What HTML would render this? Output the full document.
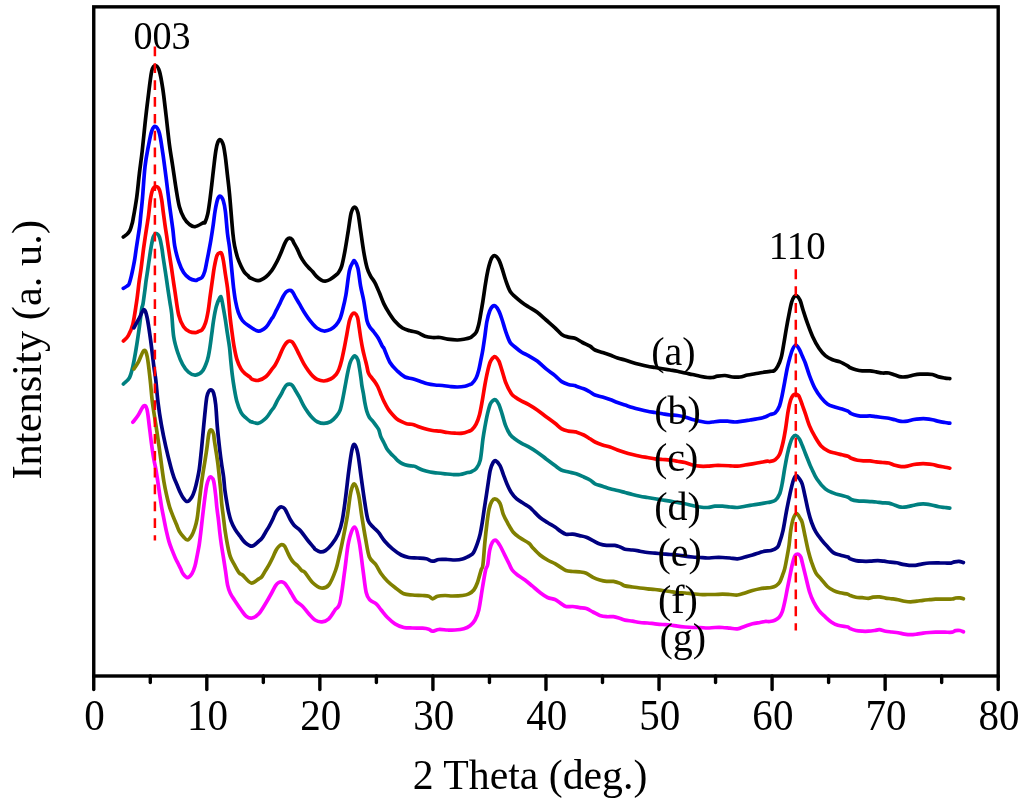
<!DOCTYPE html><html><head><meta charset="utf-8"><style>html,body{margin:0;padding:0;background:#fff;}svg{display:block;will-change:transform;}text{font-family:"Liberation Serif",serif;fill:#000;}</style></head><body>
<svg width="1024" height="810" viewBox="0 0 1024 810">
<rect width="1024" height="810" fill="#fff"/>
<path d="M123.30 237.00 C123.92 236.55 125.92 235.37 127.00 234.30 C128.08 233.23 129.02 232.15 129.80 230.60 C130.58 229.05 131.17 226.83 131.70 225.00 C132.23 223.17 132.17 224.20 133.00 219.60 C133.83 215.00 135.63 205.12 136.70 197.40 C137.77 189.68 138.48 181.02 139.40 173.30 C140.32 165.58 141.27 159.32 142.20 151.10 C143.13 142.88 144.07 132.52 145.00 124.00 C145.93 115.48 146.68 108.82 147.80 100.00 C148.92 91.18 150.43 76.85 151.70 71.10 C152.97 65.35 154.12 65.50 155.40 65.50 C156.68 65.50 158.17 67.20 159.40 71.10 C160.63 75.00 161.68 81.48 162.80 88.90 C163.92 96.32 165.00 106.35 166.10 115.60 C167.20 124.85 168.28 135.88 169.40 144.40 C170.52 152.92 171.68 159.28 172.80 166.70 C173.92 174.12 175.00 182.23 176.10 188.90 C177.20 195.57 178.10 201.88 179.40 206.70 C180.70 211.52 182.23 214.85 183.90 217.80 C185.57 220.75 187.55 222.92 189.40 224.40 C191.25 225.88 192.60 227.02 195.00 226.70 C197.40 226.38 202.13 223.22 203.80 222.50 C205.47 221.78 204.35 223.78 205.00 222.40 C205.65 221.02 206.90 217.82 207.70 214.20 C208.50 210.58 209.12 205.68 209.80 200.70 C210.48 195.72 211.13 189.97 211.80 184.30 C212.47 178.63 213.12 172.35 213.80 166.70 C214.48 161.05 215.22 154.52 215.90 150.40 C216.58 146.28 217.15 143.77 217.90 142.00 C218.65 140.23 219.50 139.32 220.40 139.80 C221.30 140.28 222.47 142.00 223.30 144.90 C224.13 147.80 224.72 152.22 225.40 157.20 C226.08 162.18 226.72 168.68 227.40 174.80 C228.08 180.92 228.58 184.10 229.50 193.90 C230.42 203.70 232.00 224.72 232.90 233.60 C233.80 242.48 234.10 243.13 234.90 247.20 C235.70 251.27 236.67 254.83 237.70 258.00 C238.73 261.17 239.97 263.82 241.10 266.20 C242.23 268.58 243.35 270.72 244.50 272.30 C245.65 273.88 247.00 274.75 248.00 275.70 C249.00 276.65 248.78 277.18 250.50 278.00 C252.22 278.82 255.70 280.82 258.30 280.60 C260.90 280.38 263.82 278.43 266.10 276.70 C268.38 274.97 270.47 272.20 272.00 270.20 C273.53 268.20 274.18 266.73 275.30 264.70 C276.42 262.67 277.58 260.42 278.70 258.00 C279.82 255.58 280.98 252.63 282.00 250.20 C283.02 247.77 283.97 245.17 284.80 243.40 C285.63 241.63 286.22 240.47 287.00 239.60 C287.78 238.73 288.62 238.17 289.50 238.20 C290.38 238.23 291.53 238.93 292.30 239.80 C293.07 240.67 293.27 241.85 294.10 243.40 C294.93 244.95 296.23 246.95 297.30 249.10 C298.37 251.25 299.30 254.03 300.50 256.30 C301.70 258.57 303.17 260.83 304.50 262.70 C305.83 264.57 307.17 266.03 308.50 267.50 C309.83 268.97 311.17 270.03 312.50 271.50 C313.83 272.97 315.03 274.87 316.50 276.30 C317.97 277.73 319.83 279.28 321.30 280.10 C322.77 280.92 323.85 281.30 325.30 281.20 C326.75 281.10 328.20 280.53 330.00 279.50 C331.80 278.47 334.72 276.12 336.10 275.00 C337.48 273.88 337.37 274.28 338.30 272.80 C339.23 271.32 340.58 269.80 341.70 266.10 C342.82 262.40 343.90 256.52 345.00 250.60 C346.10 244.68 347.27 236.90 348.30 230.60 C349.33 224.30 350.15 216.73 351.20 212.80 C352.25 208.87 353.48 207.00 354.60 207.00 C355.72 207.00 356.90 208.87 357.90 212.80 C358.90 216.73 359.60 223.93 360.60 230.60 C361.60 237.27 362.80 246.52 363.90 252.80 C365.00 259.08 366.08 264.42 367.20 268.30 C368.32 272.18 369.30 273.68 370.60 276.10 C371.90 278.52 373.53 280.02 375.00 282.80 C376.47 285.58 377.92 289.28 379.40 292.80 C380.88 296.32 382.33 300.62 383.90 303.90 C385.47 307.18 386.95 309.62 388.80 312.50 C390.65 315.38 392.72 318.62 395.00 321.20 C397.28 323.78 400.00 326.40 402.50 328.00 C405.00 329.60 407.50 330.05 410.00 330.80 C412.50 331.55 415.00 331.60 417.50 332.50 C420.00 333.40 422.50 335.37 425.00 336.20 C427.50 337.03 430.00 337.28 432.50 337.50 C435.00 337.72 437.50 337.22 440.00 337.50 C442.50 337.78 444.58 338.78 447.50 339.20 C450.42 339.62 454.58 340.03 457.50 340.00 C460.42 339.97 462.92 339.37 465.00 339.00 C467.08 338.63 468.83 338.22 470.00 337.80 C471.17 337.38 470.98 337.40 472.00 336.50 C473.02 335.60 474.97 334.45 476.10 332.40 C477.23 330.35 478.02 327.37 478.80 324.20 C479.58 321.03 480.12 317.25 480.80 313.40 C481.48 309.55 482.22 305.40 482.90 301.10 C483.58 296.80 484.23 291.90 484.90 287.60 C485.57 283.30 486.22 278.93 486.90 275.30 C487.58 271.67 488.20 268.68 489.00 265.80 C489.80 262.92 490.70 259.67 491.70 258.00 C492.70 256.33 493.80 255.47 495.00 255.80 C496.20 256.13 497.70 257.82 498.90 260.00 C500.10 262.18 501.08 265.57 502.20 268.90 C503.32 272.23 504.30 276.30 505.60 280.00 C506.90 283.70 508.43 288.32 510.00 291.10 C511.57 293.88 513.05 294.85 515.00 296.70 C516.95 298.55 519.48 300.53 521.70 302.20 C523.92 303.87 525.72 305.03 528.30 306.70 C530.88 308.37 534.23 309.98 537.20 312.20 C540.17 314.42 543.13 317.40 546.10 320.00 C549.07 322.60 552.40 325.40 555.00 327.80 C557.60 330.20 559.48 332.85 561.70 334.40 C563.92 335.95 566.08 336.45 568.30 337.10 C570.52 337.75 572.63 337.40 575.00 338.30 C577.37 339.20 580.00 341.18 582.50 342.50 C585.00 343.82 587.92 344.95 590.00 346.20 C592.08 347.45 592.92 348.95 595.00 350.00 C597.08 351.05 600.00 351.67 602.50 352.50 C605.00 353.33 607.50 354.08 610.00 355.00 C612.50 355.92 615.00 357.17 617.50 358.00 C620.00 358.83 622.50 359.25 625.00 360.00 C627.50 360.75 630.00 361.75 632.50 362.50 C635.00 363.25 637.50 363.88 640.00 364.50 C642.50 365.12 645.00 365.70 647.50 366.20 C650.00 366.70 652.50 367.07 655.00 367.50 C657.50 367.93 660.00 368.38 662.50 368.80 C665.00 369.22 667.50 369.60 670.00 370.00 C672.50 370.40 675.00 370.70 677.50 371.20 C680.00 371.70 682.50 372.45 685.00 373.00 C687.50 373.55 690.00 373.97 692.50 374.50 C695.00 375.03 697.50 375.70 700.00 376.20 C702.50 376.70 705.42 377.28 707.50 377.50 C709.58 377.72 710.83 377.72 712.50 377.50 C714.17 377.28 715.42 376.53 717.50 376.20 C719.58 375.87 722.50 375.37 725.00 375.50 C727.50 375.63 730.00 376.75 732.50 377.00 C735.00 377.25 737.50 377.33 740.00 377.00 C742.50 376.67 745.00 375.53 747.50 375.00 C750.00 374.47 752.50 374.22 755.00 373.80 C757.50 373.38 760.00 372.90 762.50 372.50 C765.00 372.10 768.03 371.72 770.00 371.40 C771.97 371.08 773.00 371.47 774.30 370.60 C775.60 369.73 776.65 368.37 777.80 366.20 C778.95 364.03 780.20 361.33 781.20 357.60 C782.20 353.87 782.93 348.70 783.80 343.80 C784.67 338.90 785.53 333.10 786.40 328.20 C787.27 323.30 788.13 318.72 789.00 314.40 C789.87 310.08 790.73 305.25 791.60 302.30 C792.47 299.35 793.33 297.77 794.20 296.70 C795.07 295.63 795.82 295.30 796.80 295.90 C797.78 296.50 799.03 297.87 800.10 300.30 C801.17 302.73 801.98 306.70 803.20 310.50 C804.42 314.30 805.82 318.73 807.40 323.10 C808.98 327.47 810.77 332.50 812.70 336.70 C814.63 340.90 816.90 345.15 819.00 348.30 C821.10 351.45 823.03 353.68 825.30 355.60 C827.57 357.52 830.15 358.75 832.60 359.80 C835.05 360.85 837.43 360.85 840.00 361.90 C842.57 362.95 846.38 365.17 848.00 366.10 C849.62 367.03 848.38 366.88 849.70 367.50 C851.02 368.12 853.82 369.23 855.90 369.80 C857.98 370.37 859.85 370.72 862.20 370.90 C864.55 371.08 867.67 370.73 870.00 370.90 C872.33 371.07 874.12 371.55 876.20 371.90 C878.28 372.25 880.40 372.82 882.50 373.00 C884.60 373.18 886.72 372.67 888.80 373.00 C890.88 373.33 892.93 374.35 895.00 375.00 C897.07 375.65 899.12 376.63 901.20 376.90 C903.28 377.17 905.40 376.92 907.50 376.60 C909.60 376.28 911.72 375.42 913.80 375.00 C915.88 374.58 917.93 374.25 920.00 374.10 C922.07 373.95 924.12 374.03 926.20 374.10 C928.28 374.17 930.40 374.03 932.50 374.50 C934.60 374.97 936.72 376.30 938.80 376.90 C940.88 377.50 943.17 377.82 945.00 378.10 C946.83 378.38 949.00 378.52 949.80 378.60" fill="none" stroke="#000000" stroke-width="3.7" stroke-linejoin="round" stroke-linecap="round"/>
<path d="M123.30 288.40 C123.92 288.02 126.03 286.85 127.00 286.10 C127.97 285.35 128.38 285.57 129.10 283.90 C129.82 282.23 130.65 278.70 131.30 276.10 C131.95 273.50 132.43 271.08 133.00 268.30 C133.57 265.52 134.15 262.73 134.70 259.40 C135.25 256.07 135.75 252.00 136.30 248.30 C136.85 244.60 137.43 240.90 138.00 237.20 C138.57 233.50 139.23 229.80 139.70 226.10 C140.17 222.40 140.33 219.68 140.80 215.00 C141.27 210.32 141.80 206.05 142.50 198.00 C143.20 189.95 144.03 175.25 145.00 166.70 C145.97 158.15 147.18 152.63 148.30 146.70 C149.42 140.77 150.52 134.47 151.70 131.10 C152.88 127.73 154.12 126.13 155.40 126.50 C156.68 126.87 158.17 128.83 159.40 133.30 C160.63 137.77 161.68 145.88 162.80 153.30 C163.92 160.72 165.00 169.28 166.10 177.80 C167.20 186.32 168.28 195.88 169.40 204.40 C170.52 212.92 171.92 222.00 172.80 228.90 C173.68 235.80 173.72 240.35 174.70 245.80 C175.68 251.25 177.22 257.15 178.70 261.60 C180.18 266.05 181.80 269.70 183.60 272.50 C185.40 275.30 187.53 277.08 189.50 278.40 C191.47 279.72 193.98 280.23 195.40 280.40 C196.82 280.57 196.88 279.90 198.00 279.40 C199.12 278.90 200.97 278.75 202.10 277.40 C203.23 276.05 204.02 273.92 204.80 271.30 C205.58 268.68 206.12 265.10 206.80 261.70 C207.48 258.30 208.22 254.52 208.90 250.90 C209.58 247.28 210.18 244.30 210.90 240.00 C211.62 235.70 212.48 230.07 213.20 225.10 C213.92 220.13 214.42 214.63 215.20 210.20 C215.98 205.77 217.03 200.83 217.90 198.50 C218.77 196.17 219.50 195.83 220.40 196.20 C221.30 196.57 222.47 198.15 223.30 200.70 C224.13 203.25 224.70 206.02 225.40 211.50 C226.10 216.98 226.82 227.65 227.50 233.60 C228.18 239.55 228.93 242.67 229.50 247.20 C230.07 251.73 230.45 256.28 230.90 260.80 C231.35 265.32 231.75 269.78 232.20 274.30 C232.65 278.82 233.03 283.37 233.60 287.90 C234.17 292.43 234.82 297.42 235.60 301.50 C236.38 305.58 237.17 309.23 238.30 312.40 C239.43 315.57 240.78 318.35 242.40 320.50 C244.02 322.65 245.35 323.53 248.00 325.30 C250.65 327.07 255.28 330.78 258.30 331.10 C261.32 331.42 263.90 329.22 266.10 327.20 C268.30 325.18 270.33 320.72 271.50 319.00 C272.67 317.28 272.28 318.37 273.10 316.90 C273.92 315.43 275.28 312.42 276.40 310.20 C277.52 307.98 278.68 305.88 279.80 303.60 C280.92 301.32 282.08 298.40 283.10 296.50 C284.12 294.60 284.97 293.20 285.90 292.20 C286.83 291.20 287.87 290.78 288.70 290.50 C289.53 290.22 290.17 290.12 290.90 290.50 C291.63 290.88 292.37 291.73 293.10 292.80 C293.83 293.87 294.25 295.05 295.30 296.90 C296.35 298.75 297.97 301.43 299.40 303.90 C300.83 306.37 302.42 309.30 303.90 311.70 C305.38 314.10 306.82 316.27 308.30 318.30 C309.78 320.33 311.32 322.23 312.80 323.90 C314.28 325.57 315.35 327.12 317.20 328.30 C319.05 329.48 321.67 330.82 323.90 331.00 C326.13 331.18 328.57 330.40 330.60 329.40 C332.63 328.40 334.55 326.73 336.10 325.00 C337.65 323.27 338.83 321.43 339.90 319.00 C340.97 316.57 341.50 314.40 342.50 310.40 C343.50 306.40 344.75 301.63 345.90 295.00 C347.05 288.37 348.25 276.02 349.40 270.60 C350.55 265.18 351.93 264.10 352.80 262.50 C353.67 260.90 353.75 260.03 354.60 261.00 C355.45 261.97 356.90 264.12 357.90 268.30 C358.90 272.48 359.65 280.82 360.60 286.10 C361.55 291.38 362.82 295.95 363.60 300.00 C364.38 304.05 364.73 306.95 365.30 310.40 C365.87 313.85 366.28 317.97 367.00 320.70 C367.72 323.43 368.45 324.92 369.60 326.80 C370.75 328.68 372.47 330.13 373.90 332.00 C375.33 333.87 376.75 335.55 378.20 338.00 C379.65 340.45 381.65 344.98 382.60 346.70 C383.55 348.42 382.67 345.67 383.90 348.30 C385.13 350.93 387.73 358.68 390.00 362.50 C392.27 366.32 395.00 368.78 397.50 371.20 C400.00 373.62 402.50 375.73 405.00 377.00 C407.50 378.27 410.00 378.10 412.50 378.80 C415.00 379.50 417.50 380.37 420.00 381.20 C422.50 382.03 425.00 383.17 427.50 383.80 C430.00 384.43 432.50 384.72 435.00 385.00 C437.50 385.28 440.00 385.25 442.50 385.50 C445.00 385.75 447.50 386.25 450.00 386.50 C452.50 386.75 455.00 387.05 457.50 387.00 C460.00 386.95 462.92 386.63 465.00 386.20 C467.08 385.77 468.83 384.85 470.00 384.40 C471.17 383.95 470.98 384.57 472.00 383.50 C473.02 382.43 474.97 380.27 476.10 378.00 C477.23 375.73 478.02 372.83 478.80 369.90 C479.58 366.97 480.12 363.80 480.80 360.40 C481.48 357.00 482.22 353.57 482.90 349.50 C483.58 345.43 484.23 340.67 484.90 336.00 C485.57 331.33 486.10 325.67 486.90 321.50 C487.70 317.33 488.78 313.50 489.70 311.00 C490.62 308.50 491.47 307.33 492.40 306.50 C493.33 305.67 494.22 305.23 495.30 306.00 C496.38 306.77 497.75 308.77 498.90 311.10 C500.05 313.43 501.08 316.67 502.20 320.00 C503.32 323.33 504.30 327.40 505.60 331.10 C506.90 334.80 508.43 339.55 510.00 342.20 C511.57 344.85 513.05 345.33 515.00 347.00 C516.95 348.67 519.48 350.77 521.70 352.20 C523.92 353.63 525.72 354.12 528.30 355.60 C530.88 357.08 534.23 358.88 537.20 361.10 C540.17 363.32 543.13 366.48 546.10 368.90 C549.07 371.32 552.40 373.48 555.00 375.60 C557.60 377.72 559.48 380.13 561.70 381.60 C563.92 383.07 566.08 383.73 568.30 384.40 C570.52 385.07 573.68 385.30 575.00 385.60 C576.32 385.90 574.73 385.67 576.20 386.20 C577.67 386.73 581.50 387.83 583.80 388.80 C586.10 389.77 588.13 390.97 590.00 392.00 C591.87 393.03 592.92 394.17 595.00 395.00 C597.08 395.83 600.00 396.25 602.50 397.00 C605.00 397.75 607.50 398.58 610.00 399.50 C612.50 400.42 615.00 401.58 617.50 402.50 C620.00 403.42 622.50 404.17 625.00 405.00 C627.50 405.83 630.00 406.75 632.50 407.50 C635.00 408.25 637.50 408.88 640.00 409.50 C642.50 410.12 645.00 410.70 647.50 411.20 C650.00 411.70 652.50 412.07 655.00 412.50 C657.50 412.93 660.00 413.38 662.50 413.80 C665.00 414.22 667.50 414.72 670.00 415.00 C672.50 415.28 675.00 415.17 677.50 415.50 C680.00 415.83 682.50 416.33 685.00 417.00 C687.50 417.67 690.00 418.80 692.50 419.50 C695.00 420.20 697.50 420.70 700.00 421.20 C702.50 421.70 705.42 422.37 707.50 422.50 C709.58 422.63 710.42 422.22 712.50 422.00 C714.58 421.78 717.50 421.33 720.00 421.20 C722.50 421.07 725.00 421.07 727.50 421.20 C730.00 421.33 732.50 422.00 735.00 422.00 C737.50 422.00 740.00 421.53 742.50 421.20 C745.00 420.87 747.50 420.40 750.00 420.00 C752.50 419.60 755.00 419.30 757.50 418.80 C760.00 418.30 762.92 417.70 765.00 417.00 C767.08 416.30 768.30 415.28 770.00 414.60 C771.70 413.92 773.62 414.33 775.20 412.90 C776.78 411.47 778.35 408.88 779.50 406.00 C780.65 403.12 781.23 399.63 782.10 395.60 C782.97 391.57 783.83 386.40 784.70 381.80 C785.57 377.20 786.43 372.03 787.30 368.00 C788.17 363.97 789.03 360.68 789.90 357.60 C790.77 354.52 791.50 351.60 792.50 349.50 C793.50 347.40 794.75 345.00 795.90 345.00 C797.05 345.00 798.30 347.58 799.40 349.50 C800.50 351.42 801.52 354.25 802.50 356.50 C803.48 358.75 804.13 359.82 805.30 363.00 C806.47 366.18 807.92 371.42 809.50 375.60 C811.08 379.78 812.87 384.43 814.80 388.10 C816.73 391.77 819.00 394.97 821.10 397.60 C823.20 400.23 825.13 402.33 827.40 403.90 C829.67 405.47 832.25 406.13 834.70 407.00 C837.15 407.87 839.88 408.40 842.10 409.10 C844.32 409.80 846.48 410.45 848.00 411.20 C849.52 411.95 849.62 412.87 851.20 413.60 C852.78 414.33 855.40 415.17 857.50 415.60 C859.60 416.03 861.72 416.15 863.80 416.20 C865.88 416.25 867.93 415.82 870.00 415.90 C872.07 415.98 874.12 416.43 876.20 416.70 C878.28 416.97 880.40 417.23 882.50 417.50 C884.60 417.77 886.72 417.92 888.80 418.30 C890.88 418.68 892.93 419.28 895.00 419.80 C897.07 420.32 899.12 421.18 901.20 421.40 C903.28 421.62 905.40 421.42 907.50 421.10 C909.60 420.78 911.72 419.88 913.80 419.50 C915.88 419.12 917.93 418.92 920.00 418.80 C922.07 418.68 924.12 418.63 926.20 418.80 C928.28 418.97 930.40 419.37 932.50 419.80 C934.60 420.23 936.72 420.95 938.80 421.40 C940.88 421.85 943.17 422.20 945.00 422.50 C946.83 422.80 949.00 423.08 949.80 423.20" fill="none" stroke="#0000FF" stroke-width="3.7" stroke-linejoin="round" stroke-linecap="round"/>
<path d="M123.40 341.00 C124.22 340.10 126.73 338.37 128.30 335.60 C129.87 332.83 131.47 329.68 132.80 324.40 C134.13 319.12 135.47 309.17 136.30 303.90 C137.13 298.63 137.33 296.50 137.80 292.80 C138.27 289.10 138.60 285.40 139.10 281.70 C139.60 278.00 140.28 274.32 140.80 270.60 C141.32 266.88 141.73 263.12 142.20 259.40 C142.67 255.68 143.10 252.00 143.60 248.30 C144.10 244.60 144.65 240.90 145.20 237.20 C145.75 233.50 146.33 229.80 146.90 226.10 C147.47 222.40 148.02 219.45 148.60 215.00 C149.18 210.55 149.72 203.67 150.40 199.40 C151.08 195.13 151.77 191.55 152.70 189.40 C153.63 187.25 154.90 186.50 156.00 186.50 C157.10 186.50 158.37 187.25 159.30 189.40 C160.23 191.55 160.95 195.68 161.60 199.40 C162.25 203.12 162.63 207.43 163.20 211.70 C163.77 215.97 164.42 220.93 165.00 225.00 C165.58 229.07 166.15 232.40 166.70 236.10 C167.25 239.80 167.75 243.50 168.30 247.20 C168.85 250.90 169.43 254.60 170.00 258.30 C170.57 262.00 171.15 265.68 171.70 269.40 C172.25 273.12 172.75 276.88 173.30 280.60 C173.85 284.32 174.10 285.97 175.00 291.70 C175.90 297.43 177.27 309.15 178.70 315.00 C180.13 320.85 181.80 324.02 183.60 326.80 C185.40 329.58 187.53 330.72 189.50 331.70 C191.47 332.68 193.98 332.70 195.40 332.70 C196.82 332.70 196.88 332.20 198.00 331.70 C199.12 331.20 200.85 331.17 202.10 329.70 C203.35 328.23 204.48 326.07 205.50 322.90 C206.52 319.73 207.42 315.23 208.20 310.70 C208.98 306.17 209.52 300.68 210.20 295.70 C210.88 290.72 211.62 285.55 212.30 280.80 C212.98 276.05 213.52 271.42 214.30 267.20 C215.08 262.98 216.03 257.91 217.00 255.50 C217.97 253.09 219.30 253.00 220.10 252.75 C220.90 252.50 221.25 252.66 221.80 254.00 C222.35 255.34 222.80 257.42 223.40 260.80 C224.00 264.18 224.72 269.78 225.40 274.30 C226.08 278.82 226.93 283.37 227.50 287.90 C228.07 292.43 228.35 296.48 228.80 301.50 C229.25 306.52 229.63 312.65 230.20 318.00 C230.77 323.35 231.53 328.73 232.20 333.60 C232.87 338.47 233.42 342.90 234.20 347.20 C234.98 351.50 235.77 355.78 236.90 359.40 C238.03 363.02 239.63 366.52 241.00 368.90 C242.37 371.28 243.60 372.33 245.10 373.70 C246.60 375.07 248.88 376.20 250.00 377.10 C251.12 378.00 250.42 378.55 251.80 379.10 C253.18 379.65 255.92 380.83 258.30 380.40 C260.68 379.97 263.82 378.38 266.10 376.50 C268.38 374.62 270.47 371.07 272.00 369.10 C273.53 367.13 274.18 366.55 275.30 364.70 C276.42 362.85 277.58 360.42 278.70 358.00 C279.82 355.58 280.98 352.37 282.00 350.20 C283.02 348.03 283.87 346.40 284.80 345.00 C285.73 343.60 286.77 342.47 287.60 341.80 C288.43 341.13 289.00 340.93 289.80 341.00 C290.60 341.07 291.57 341.40 292.40 342.20 C293.23 343.00 293.93 344.28 294.80 345.80 C295.67 347.32 296.83 349.77 297.60 351.30 C298.37 352.83 298.35 352.90 299.40 355.00 C300.45 357.10 302.42 361.30 303.90 363.90 C305.38 366.50 306.82 368.57 308.30 370.60 C309.78 372.63 311.32 374.63 312.80 376.10 C314.28 377.57 315.35 378.58 317.20 379.40 C319.05 380.22 321.67 381.07 323.90 381.00 C326.13 380.93 328.57 380.08 330.60 379.00 C332.63 377.92 334.70 376.15 336.10 374.50 C337.50 372.85 338.08 371.43 339.00 369.10 C339.92 366.77 340.73 363.95 341.60 360.50 C342.47 357.05 343.33 352.72 344.20 348.40 C345.07 344.08 345.93 339.22 346.80 334.60 C347.67 329.98 348.53 324.05 349.40 320.70 C350.27 317.35 351.13 315.75 352.00 314.50 C352.87 313.25 353.68 312.73 354.60 313.20 C355.52 313.67 356.73 314.88 357.50 317.30 C358.27 319.72 358.62 323.95 359.20 327.70 C359.78 331.45 360.38 336.08 361.00 339.80 C361.62 343.52 362.27 346.98 362.90 350.00 C363.53 353.02 364.15 355.27 364.80 357.90 C365.45 360.53 366.22 363.33 366.80 365.80 C367.38 368.27 367.63 370.88 368.30 372.70 C368.97 374.52 369.73 375.22 370.80 376.70 C371.87 378.18 373.55 379.97 374.70 381.60 C375.85 383.23 376.72 384.52 377.70 386.50 C378.68 388.48 379.67 391.25 380.60 393.50 C381.53 395.75 382.43 398.10 383.30 400.00 C384.17 401.90 384.90 403.25 385.80 404.90 C386.70 406.55 387.55 408.25 388.70 409.90 C389.85 411.55 391.38 413.32 392.70 414.80 C394.02 416.28 395.12 417.65 396.60 418.80 C398.08 419.95 399.95 420.88 401.60 421.70 C403.25 422.52 404.87 423.28 406.50 423.70 C408.13 424.12 409.98 423.95 411.40 424.20 C412.82 424.45 413.98 424.87 415.00 425.20 C416.02 425.53 415.83 425.60 417.50 426.20 C419.17 426.80 422.50 428.08 425.00 428.80 C427.50 429.52 430.00 430.10 432.50 430.50 C435.00 430.90 437.50 430.87 440.00 431.20 C442.50 431.53 445.00 432.17 447.50 432.50 C450.00 432.83 452.50 433.08 455.00 433.20 C457.50 433.32 460.20 433.53 462.50 433.20 C464.80 432.87 467.22 431.78 468.80 431.20 C470.38 430.62 470.78 430.87 472.00 429.70 C473.22 428.53 474.85 426.70 476.10 424.20 C477.35 421.70 478.48 418.55 479.50 414.70 C480.52 410.85 481.30 406.08 482.20 401.10 C483.10 396.12 484.00 389.77 484.90 384.80 C485.80 379.83 486.70 375.15 487.60 371.30 C488.50 367.45 489.35 364.00 490.30 361.70 C491.25 359.40 492.47 358.32 493.30 357.50 C494.13 356.68 494.37 356.20 495.30 356.80 C496.23 357.40 497.75 358.72 498.90 361.10 C500.05 363.48 501.08 367.58 502.20 371.10 C503.32 374.62 504.12 378.50 505.60 382.20 C507.08 385.90 509.53 390.83 511.10 393.30 C512.67 395.77 513.23 395.70 515.00 397.00 C516.77 398.30 519.48 399.87 521.70 401.10 C523.92 402.33 525.72 402.92 528.30 404.40 C530.88 405.88 534.23 407.95 537.20 410.00 C540.17 412.05 543.13 414.48 546.10 416.70 C549.07 418.92 552.40 421.27 555.00 423.30 C557.60 425.33 559.48 427.60 561.70 428.90 C563.92 430.20 566.08 430.62 568.30 431.10 C570.52 431.58 573.68 431.65 575.00 431.80 C576.32 431.95 574.73 431.47 576.20 432.00 C577.67 432.53 581.50 433.87 583.80 435.00 C586.10 436.13 588.13 437.63 590.00 438.80 C591.87 439.97 592.92 440.97 595.00 442.00 C597.08 443.03 600.00 444.17 602.50 445.00 C605.00 445.83 607.50 446.17 610.00 447.00 C612.50 447.83 615.00 449.08 617.50 450.00 C620.00 450.92 622.50 451.75 625.00 452.50 C627.50 453.25 630.00 453.88 632.50 454.50 C635.00 455.12 637.50 455.70 640.00 456.20 C642.50 456.70 645.00 457.07 647.50 457.50 C650.00 457.93 652.50 458.47 655.00 458.80 C657.50 459.13 660.00 459.30 662.50 459.50 C665.00 459.70 667.50 459.72 670.00 460.00 C672.50 460.28 675.00 460.78 677.50 461.20 C680.00 461.62 682.50 461.87 685.00 462.50 C687.50 463.13 690.00 464.38 692.50 465.00 C695.00 465.62 697.50 466.00 700.00 466.20 C702.50 466.40 705.00 466.32 707.50 466.20 C710.00 466.08 712.50 465.62 715.00 465.50 C717.50 465.38 720.00 465.45 722.50 465.50 C725.00 465.55 727.50 465.68 730.00 465.80 C732.50 465.92 735.00 466.33 737.50 466.20 C740.00 466.07 742.50 465.40 745.00 465.00 C747.50 464.60 750.00 464.22 752.50 463.80 C755.00 463.38 757.50 462.93 760.00 462.50 C762.50 462.07 765.83 461.37 767.50 461.20 C769.17 461.03 768.72 461.73 770.00 461.50 C771.28 461.27 773.62 460.95 775.20 459.80 C776.78 458.65 778.20 457.48 779.50 454.60 C780.80 451.72 781.98 446.83 783.00 442.50 C784.02 438.17 784.75 433.82 785.60 428.60 C786.45 423.38 787.25 416.00 788.10 411.20 C788.95 406.40 789.83 402.50 790.70 399.80 C791.57 397.10 792.43 395.97 793.30 395.00 C794.17 394.03 795.03 393.92 795.90 394.00 C796.77 394.08 797.78 394.65 798.50 395.50 C799.22 396.35 799.53 397.43 800.20 399.10 C800.87 400.77 801.65 403.13 802.50 405.50 C803.35 407.87 804.13 409.90 805.30 413.30 C806.47 416.70 807.92 422.05 809.50 425.90 C811.08 429.75 812.87 433.07 814.80 436.40 C816.73 439.73 818.83 443.45 821.10 445.90 C823.37 448.35 825.95 449.88 828.40 451.10 C830.85 452.32 833.53 452.58 835.80 453.20 C838.07 453.82 839.97 454.28 842.00 454.80 C844.03 455.32 846.47 455.72 848.00 456.30 C849.53 456.88 849.62 457.63 851.20 458.30 C852.78 458.97 855.40 459.87 857.50 460.30 C859.60 460.73 861.72 460.80 863.80 460.90 C865.88 461.00 867.93 460.73 870.00 460.90 C872.07 461.07 874.12 461.63 876.20 461.90 C878.28 462.17 880.40 462.32 882.50 462.50 C884.60 462.68 886.72 462.53 888.80 463.00 C890.88 463.47 892.93 464.70 895.00 465.30 C897.07 465.90 899.12 466.47 901.20 466.60 C903.28 466.73 905.40 466.45 907.50 466.10 C909.60 465.75 911.72 464.88 913.80 464.50 C915.88 464.12 917.93 463.92 920.00 463.80 C922.07 463.68 924.12 463.68 926.20 463.80 C928.28 463.92 930.40 464.12 932.50 464.50 C934.60 464.88 936.72 465.65 938.80 466.10 C940.88 466.55 943.17 466.85 945.00 467.20 C946.83 467.55 949.00 468.03 949.80 468.20" fill="none" stroke="#FF0000" stroke-width="3.7" stroke-linejoin="round" stroke-linecap="round"/>
<path d="M123.40 384.00 C124.40 382.97 127.83 380.68 129.40 377.80 C130.97 374.92 131.68 371.52 132.80 366.70 C133.92 361.88 135.00 355.57 136.10 348.90 C137.20 342.23 138.47 333.37 139.40 326.70 C140.33 320.03 141.10 312.70 141.70 308.90 C142.30 305.10 142.45 307.15 143.00 303.90 C143.55 300.65 144.48 293.28 145.00 289.40 C145.52 285.52 145.63 283.93 146.10 280.60 C146.57 277.27 147.25 273.12 147.80 269.40 C148.35 265.68 148.85 262.00 149.40 258.30 C149.95 254.60 150.45 250.75 151.10 247.20 C151.75 243.65 152.47 239.28 153.30 237.00 C154.13 234.72 155.08 233.50 156.10 233.50 C157.12 233.50 158.47 234.72 159.40 237.00 C160.33 239.28 161.05 243.65 161.70 247.20 C162.35 250.75 162.75 254.60 163.30 258.30 C163.85 262.00 164.43 265.68 165.00 269.40 C165.57 273.12 166.15 276.88 166.70 280.60 C167.25 284.32 167.75 288.00 168.30 291.70 C168.85 295.40 169.43 299.10 170.00 302.80 C170.57 306.50 171.08 308.25 171.70 313.90 C172.32 319.55 172.70 330.27 173.70 336.70 C174.70 343.13 176.22 347.90 177.70 352.50 C179.18 357.10 180.80 361.02 182.60 364.30 C184.40 367.58 186.37 370.38 188.50 372.20 C190.63 374.02 193.08 375.37 195.40 375.20 C197.72 375.03 200.42 373.67 202.40 371.20 C204.38 368.73 206.12 363.93 207.30 360.40 C208.48 356.87 208.78 354.22 209.50 350.00 C210.22 345.78 210.92 340.07 211.60 335.10 C212.28 330.13 212.82 324.95 213.60 320.20 C214.38 315.45 215.25 310.38 216.30 306.60 C217.35 302.82 219.05 298.93 219.90 297.50 C220.75 296.07 220.82 296.20 221.40 298.00 C221.98 299.80 222.73 304.63 223.40 308.30 C224.07 311.97 224.73 315.78 225.40 320.00 C226.07 324.22 226.72 329.07 227.40 333.60 C228.08 338.13 228.93 342.67 229.50 347.20 C230.07 351.73 230.35 356.28 230.80 360.80 C231.25 365.32 231.63 369.78 232.20 374.30 C232.77 378.82 233.42 383.37 234.20 387.90 C234.98 392.43 235.77 397.42 236.90 401.50 C238.03 405.58 239.52 409.68 241.00 412.40 C242.48 415.12 244.30 416.33 245.80 417.80 C247.30 419.27 249.00 420.52 250.00 421.20 C251.00 421.88 250.42 421.57 251.80 421.90 C253.18 422.23 255.92 423.85 258.30 423.20 C260.68 422.55 263.90 420.12 266.10 418.00 C268.30 415.88 270.15 412.35 271.50 410.50 C272.85 408.65 273.18 408.62 274.20 406.90 C275.22 405.18 276.48 402.23 277.60 400.20 C278.72 398.17 279.88 396.55 280.90 394.70 C281.92 392.85 282.78 390.68 283.70 389.10 C284.62 387.52 285.42 386.02 286.40 385.20 C287.38 384.38 288.60 384.15 289.60 384.20 C290.60 384.25 291.45 384.50 292.40 385.50 C293.35 386.50 294.13 388.25 295.30 390.20 C296.47 392.15 297.97 394.55 299.40 397.20 C300.83 399.85 302.42 403.50 303.90 406.10 C305.38 408.70 306.82 410.77 308.30 412.80 C309.78 414.83 311.32 416.82 312.80 418.30 C314.28 419.78 315.35 420.85 317.20 421.70 C319.05 422.55 321.67 423.40 323.90 423.40 C326.13 423.40 328.57 422.85 330.60 421.70 C332.63 420.55 334.55 418.35 336.10 416.50 C337.65 414.65 338.83 413.32 339.90 410.60 C340.97 407.88 341.63 404.23 342.50 400.20 C343.37 396.17 344.23 391.00 345.10 386.40 C345.97 381.80 346.85 376.58 347.70 372.60 C348.55 368.62 349.35 365.02 350.20 362.50 C351.05 359.98 352.00 358.58 352.80 357.50 C353.60 356.42 354.15 355.58 355.00 356.00 C355.85 356.42 357.17 358.03 357.90 360.00 C358.63 361.97 358.90 364.85 359.40 367.80 C359.90 370.75 360.48 374.73 360.90 377.70 C361.32 380.67 361.48 382.97 361.90 385.60 C362.32 388.23 362.92 390.72 363.40 393.50 C363.88 396.28 364.23 399.35 364.80 402.30 C365.37 405.25 366.05 408.72 366.80 411.20 C367.55 413.68 368.32 415.55 369.30 417.20 C370.28 418.85 371.63 419.78 372.70 421.10 C373.77 422.42 374.70 423.70 375.70 425.10 C376.70 426.50 377.85 427.58 378.70 429.50 C379.55 431.42 379.95 434.43 380.80 436.60 C381.65 438.77 382.82 440.53 383.80 442.50 C384.78 444.47 385.55 446.58 386.70 448.40 C387.85 450.22 389.38 451.92 390.70 453.40 C392.02 454.88 393.28 455.98 394.60 457.30 C395.92 458.62 397.28 460.23 398.60 461.30 C399.92 462.37 401.02 463.02 402.50 463.70 C403.98 464.38 405.85 465.02 407.50 465.40 C409.15 465.78 411.15 465.83 412.40 466.00 C413.65 466.17 413.32 465.73 415.00 466.40 C416.68 467.07 420.00 469.07 422.50 470.00 C425.00 470.93 427.50 471.50 430.00 472.00 C432.50 472.50 435.00 472.70 437.50 473.00 C440.00 473.30 442.50 473.55 445.00 473.80 C447.50 474.05 450.00 474.38 452.50 474.50 C455.00 474.62 457.50 474.83 460.00 474.50 C462.50 474.17 465.83 472.88 467.50 472.50 C469.17 472.12 469.25 472.40 470.00 472.20 C470.75 472.00 470.98 471.90 472.00 471.30 C473.02 470.70 474.73 470.42 476.10 468.60 C477.47 466.78 479.07 465.30 480.20 460.40 C481.33 455.50 482.12 444.77 482.90 439.20 C483.68 433.63 484.12 431.30 484.90 427.00 C485.68 422.70 486.70 417.25 487.60 413.40 C488.50 409.55 489.35 406.08 490.30 403.90 C491.25 401.72 492.43 400.98 493.30 400.30 C494.17 399.62 494.57 399.12 495.50 399.80 C496.43 400.48 497.78 401.97 498.90 404.40 C500.02 406.83 501.08 410.87 502.20 414.40 C503.32 417.93 504.30 422.27 505.60 425.60 C506.90 428.93 508.43 432.17 510.00 434.40 C511.57 436.63 513.05 437.52 515.00 439.00 C516.95 440.48 519.48 442.02 521.70 443.30 C523.92 444.58 525.72 445.22 528.30 446.70 C530.88 448.18 534.23 450.17 537.20 452.20 C540.17 454.23 543.13 456.67 546.10 458.90 C549.07 461.13 552.48 463.75 555.00 465.60 C557.52 467.45 558.90 468.93 561.20 470.00 C563.50 471.07 566.30 471.37 568.80 472.00 C571.30 472.63 573.70 472.97 576.20 473.80 C578.70 474.63 581.50 475.97 583.80 477.00 C586.10 478.03 588.13 478.87 590.00 480.00 C591.87 481.13 592.92 482.77 595.00 483.80 C597.08 484.83 600.00 485.37 602.50 486.20 C605.00 487.03 607.50 488.08 610.00 488.80 C612.50 489.52 615.00 489.88 617.50 490.50 C620.00 491.12 622.50 491.83 625.00 492.50 C627.50 493.17 630.00 493.88 632.50 494.50 C635.00 495.12 637.50 495.70 640.00 496.20 C642.50 496.70 645.00 497.07 647.50 497.50 C650.00 497.93 652.50 498.38 655.00 498.80 C657.50 499.22 660.00 499.60 662.50 500.00 C665.00 500.40 667.50 500.78 670.00 501.20 C672.50 501.62 675.00 502.07 677.50 502.50 C680.00 502.93 682.50 503.30 685.00 503.80 C687.50 504.30 690.00 504.97 692.50 505.50 C695.00 506.03 697.50 506.67 700.00 507.00 C702.50 507.33 705.00 507.63 707.50 507.50 C710.00 507.37 712.50 506.42 715.00 506.20 C717.50 505.98 720.00 506.07 722.50 506.20 C725.00 506.33 727.50 506.78 730.00 507.00 C732.50 507.22 735.00 507.63 737.50 507.50 C740.00 507.37 742.50 506.62 745.00 506.20 C747.50 505.78 750.00 505.40 752.50 505.00 C755.00 504.60 757.50 504.22 760.00 503.80 C762.50 503.38 765.83 502.78 767.50 502.50 C769.17 502.22 768.72 502.45 770.00 502.10 C771.28 501.75 773.62 501.70 775.20 500.40 C776.78 499.10 778.35 497.03 779.50 494.30 C780.65 491.57 781.23 488.32 782.10 484.00 C782.97 479.68 783.83 473.30 784.70 468.40 C785.57 463.50 786.43 458.63 787.30 454.60 C788.17 450.57 789.03 447.00 789.90 444.20 C790.77 441.40 791.50 439.25 792.50 437.80 C793.50 436.35 794.75 435.30 795.90 435.50 C797.05 435.70 798.33 437.33 799.40 439.00 C800.47 440.67 801.32 443.13 802.30 445.50 C803.28 447.87 804.10 450.17 805.30 453.20 C806.50 456.23 808.45 461.15 809.50 463.70 C810.55 466.25 810.37 465.95 811.60 468.50 C812.83 471.05 814.62 475.60 816.90 479.00 C819.18 482.40 822.50 486.55 825.30 488.90 C828.10 491.25 831.25 492.08 833.70 493.10 C836.15 494.12 837.62 494.30 840.00 495.00 C842.38 495.70 846.13 496.57 848.00 497.30 C849.87 498.03 849.62 498.80 851.20 499.40 C852.78 500.00 855.40 500.60 857.50 500.90 C859.60 501.20 861.72 501.08 863.80 501.20 C865.88 501.32 867.93 501.47 870.00 501.60 C872.07 501.73 874.12 501.80 876.20 502.00 C878.28 502.20 880.40 502.62 882.50 502.80 C884.60 502.98 886.72 502.70 888.80 503.10 C890.88 503.50 892.93 504.52 895.00 505.20 C897.07 505.88 899.12 506.95 901.20 507.20 C903.28 507.45 905.40 507.03 907.50 506.70 C909.60 506.37 911.72 505.63 913.80 505.20 C915.88 504.77 917.93 504.28 920.00 504.10 C922.07 503.92 924.12 503.92 926.20 504.10 C928.28 504.28 930.40 504.77 932.50 505.20 C934.60 505.63 936.72 506.32 938.80 506.70 C940.88 507.08 943.17 507.27 945.00 507.50 C946.83 507.73 949.00 508.00 949.80 508.10" fill="none" stroke="#008080" stroke-width="3.7" stroke-linejoin="round" stroke-linecap="round"/>
<path d="M133.90 327.80 C134.82 326.13 137.73 320.85 139.40 317.80 C141.07 314.75 142.60 309.47 143.90 309.50 C145.20 309.53 146.08 312.92 147.20 318.00 C148.32 323.08 149.48 331.88 150.60 340.00 C151.72 348.12 153.03 360.03 153.90 366.70 C154.77 373.37 155.12 374.08 155.80 380.00 C156.48 385.92 157.08 394.80 158.00 402.20 C158.92 409.60 160.00 416.98 161.30 424.40 C162.60 431.82 164.18 439.47 165.80 446.70 C167.42 453.93 169.65 462.68 171.00 467.80 C172.35 472.92 172.90 474.57 173.90 477.40 C174.90 480.23 175.97 482.33 177.00 484.80 C178.03 487.27 179.07 490.03 180.10 492.20 C181.13 494.37 182.02 496.25 183.20 497.80 C184.38 499.35 185.75 501.63 187.20 501.50 C188.65 501.37 190.62 499.03 191.90 497.00 C193.18 494.97 194.03 492.07 194.90 489.30 C195.77 486.53 196.37 483.78 197.10 480.40 C197.83 477.02 198.62 473.73 199.30 469.00 C199.98 464.27 200.60 457.78 201.20 452.00 C201.80 446.22 202.30 440.55 202.90 434.30 C203.50 428.05 204.15 420.72 204.80 414.50 C205.45 408.28 206.10 400.92 206.80 397.00 C207.50 393.08 208.23 392.17 209.00 391.00 C209.77 389.83 210.63 389.67 211.40 390.00 C212.17 390.33 212.88 390.57 213.60 393.00 C214.32 395.43 215.07 398.85 215.70 404.60 C216.33 410.35 216.70 419.77 217.40 427.50 C218.10 435.23 219.18 444.80 219.90 451.00 C220.62 457.20 221.08 460.37 221.70 464.70 C222.32 469.03 223.08 472.88 223.60 477.00 C224.12 481.12 224.28 485.28 224.80 489.40 C225.32 493.52 226.08 498.00 226.70 501.70 C227.32 505.40 227.78 508.42 228.50 511.60 C229.22 514.78 229.90 517.83 231.00 520.80 C232.10 523.77 233.60 526.83 235.10 529.40 C236.60 531.97 238.35 534.02 240.00 536.20 C241.65 538.38 243.00 540.83 245.00 542.50 C247.00 544.17 249.70 546.42 252.00 546.20 C254.30 545.98 257.13 542.53 258.80 541.20 C260.47 539.87 260.85 539.73 262.00 538.20 C263.15 536.67 264.47 534.05 265.70 532.00 C266.93 529.95 268.17 528.15 269.40 525.90 C270.63 523.65 271.97 520.90 273.10 518.50 C274.23 516.10 275.17 513.28 276.20 511.50 C277.23 509.72 278.37 508.55 279.30 507.80 C280.23 507.05 280.92 506.87 281.80 507.00 C282.68 507.13 283.68 507.52 284.60 508.60 C285.52 509.68 286.33 511.65 287.30 513.50 C288.27 515.35 289.27 517.75 290.40 519.70 C291.53 521.65 292.87 523.77 294.10 525.20 C295.33 526.63 296.57 527.17 297.80 528.30 C299.03 529.43 299.88 530.05 301.50 532.00 C303.12 533.95 305.45 537.42 307.50 540.00 C309.55 542.58 312.55 545.95 313.80 547.50 C315.05 549.05 313.93 548.57 315.00 549.30 C316.07 550.03 318.47 551.68 320.20 551.90 C321.93 552.12 323.45 551.90 325.40 550.60 C327.35 549.30 329.75 546.92 331.90 544.10 C334.05 541.28 336.58 537.60 338.30 533.70 C340.02 529.80 340.98 526.75 342.20 520.70 C343.42 514.65 344.52 505.60 345.60 497.40 C346.68 489.20 347.67 479.28 348.70 471.50 C349.73 463.72 350.85 455.20 351.80 450.70 C352.75 446.20 353.40 444.07 354.40 444.50 C355.40 444.93 356.68 447.93 357.80 453.30 C358.92 458.67 359.93 468.48 361.10 476.70 C362.27 484.92 363.62 495.27 364.80 502.60 C365.98 509.93 366.78 516.60 368.20 520.70 C369.62 524.80 371.58 525.25 373.30 527.20 C375.02 529.15 376.55 530.02 378.50 532.40 C380.45 534.78 382.67 538.77 385.00 541.50 C387.33 544.23 389.80 546.55 392.50 548.80 C395.20 551.05 398.48 553.55 401.20 555.00 C403.92 556.45 406.08 557.00 408.80 557.50 C411.52 558.00 414.60 557.78 417.50 558.00 C420.40 558.22 423.70 558.27 426.20 558.80 C428.70 559.33 430.40 561.08 432.50 561.20 C434.60 561.32 436.30 559.78 438.80 559.50 C441.30 559.22 444.80 559.42 447.50 559.50 C450.20 559.58 452.50 560.08 455.00 560.00 C457.50 559.92 460.20 559.63 462.50 559.00 C464.80 558.37 467.55 556.77 468.80 556.20 C470.05 555.63 469.23 556.17 470.00 555.60 C470.77 555.03 472.17 554.85 473.40 552.80 C474.63 550.75 476.27 546.47 477.40 543.30 C478.53 540.13 479.40 537.20 480.20 533.80 C481.00 530.40 481.53 526.98 482.20 522.90 C482.87 518.82 483.52 513.82 484.20 509.30 C484.88 504.78 485.62 500.32 486.30 495.80 C486.98 491.28 487.63 486.50 488.30 482.20 C488.97 477.90 489.50 473.28 490.30 470.00 C491.10 466.72 492.22 464.03 493.10 462.50 C493.98 460.97 494.45 460.28 495.60 460.80 C496.75 461.32 498.72 463.33 500.00 465.60 C501.28 467.87 502.18 471.45 503.30 474.40 C504.42 477.35 505.40 480.33 506.70 483.30 C508.00 486.27 509.43 489.60 511.10 492.20 C512.77 494.80 514.67 497.05 516.70 498.90 C518.73 500.75 521.27 502.00 523.30 503.30 C525.33 504.60 527.37 505.58 528.90 506.70 C530.43 507.82 530.65 508.20 532.50 510.00 C534.35 511.80 537.50 515.42 540.00 517.50 C542.50 519.58 545.00 520.92 547.50 522.50 C550.00 524.08 552.85 525.57 555.00 527.00 C557.15 528.43 558.58 529.90 560.40 531.10 C562.22 532.30 563.85 533.68 565.90 534.20 C567.95 534.72 570.43 533.97 572.70 534.20 C574.97 534.43 577.23 535.10 579.50 535.60 C581.77 536.10 584.05 536.37 586.30 537.20 C588.55 538.03 590.75 539.47 593.00 540.60 C595.25 541.73 597.53 543.20 599.80 544.00 C602.07 544.80 604.10 545.17 606.60 545.40 C609.10 545.63 612.53 545.13 614.80 545.40 C617.07 545.67 618.50 546.37 620.20 547.00 C621.90 547.63 622.95 548.70 625.00 549.20 C627.05 549.70 630.00 549.67 632.50 550.00 C635.00 550.33 637.50 550.78 640.00 551.20 C642.50 551.62 645.00 552.17 647.50 552.50 C650.00 552.83 652.50 552.98 655.00 553.20 C657.50 553.42 660.00 553.58 662.50 553.80 C665.00 554.02 667.50 554.30 670.00 554.50 C672.50 554.70 675.00 554.72 677.50 555.00 C680.00 555.28 682.50 555.87 685.00 556.20 C687.50 556.53 690.00 556.78 692.50 557.00 C695.00 557.22 697.50 557.33 700.00 557.50 C702.50 557.67 705.00 558.00 707.50 558.00 C710.00 558.00 712.50 557.58 715.00 557.50 C717.50 557.42 720.00 557.42 722.50 557.50 C725.00 557.58 727.50 557.78 730.00 558.00 C732.50 558.22 735.00 558.97 737.50 558.80 C740.00 558.63 742.50 557.63 745.00 557.00 C747.50 556.37 750.00 555.75 752.50 555.00 C755.00 554.25 757.92 553.15 760.00 552.50 C762.08 551.85 763.13 551.43 765.00 551.10 C766.87 550.77 769.15 551.12 771.20 550.50 C773.25 549.88 775.92 548.70 777.30 547.40 C778.68 546.10 778.55 545.50 779.50 542.70 C780.45 539.90 781.85 535.78 783.00 530.60 C784.15 525.42 785.25 517.65 786.40 511.60 C787.55 505.55 788.75 499.48 789.90 494.30 C791.05 489.12 792.23 483.63 793.30 480.50 C794.37 477.37 795.28 475.78 796.30 475.50 C797.32 475.22 798.42 477.38 799.40 478.80 C800.38 480.22 801.22 480.92 802.20 484.00 C803.18 487.08 804.25 492.63 805.30 497.30 C806.35 501.97 807.45 507.80 808.50 512.00 C809.55 516.20 810.38 519.18 811.60 522.50 C812.82 525.82 814.22 529.10 815.80 531.90 C817.38 534.70 819.17 536.85 821.10 539.30 C823.03 541.75 825.30 544.33 827.40 546.60 C829.50 548.87 831.60 551.50 833.70 552.90 C835.80 554.30 837.62 554.30 840.00 555.00 C842.38 555.70 846.38 556.50 848.00 557.10 C849.62 557.70 848.38 558.02 849.70 558.60 C851.02 559.18 853.82 560.17 855.90 560.60 C857.98 561.03 859.85 561.10 862.20 561.20 C864.55 561.30 867.40 561.30 870.00 561.20 C872.60 561.10 875.45 560.60 877.80 560.60 C880.15 560.60 882.02 560.93 884.10 561.20 C886.18 561.47 888.22 561.93 890.30 562.20 C892.38 562.47 894.52 562.43 896.60 562.80 C898.68 563.17 900.72 563.98 902.80 564.40 C904.88 564.82 907.02 565.15 909.10 565.30 C911.18 565.45 913.22 565.50 915.30 565.30 C917.38 565.10 919.25 564.48 921.60 564.10 C923.95 563.72 926.80 563.22 929.40 563.00 C932.00 562.78 935.43 562.80 937.20 562.80 C938.97 562.80 938.70 562.97 940.00 563.00 C941.30 563.03 943.15 562.98 945.00 563.00 C946.85 563.02 949.53 563.28 951.10 563.10 C952.67 562.92 953.10 562.20 954.40 561.90 C955.70 561.60 957.40 561.18 958.90 561.30 C960.40 561.42 962.65 562.38 963.40 562.60" fill="none" stroke="#000080" stroke-width="3.7" stroke-linejoin="round" stroke-linecap="round"/>
<path d="M133.90 368.90 C134.63 367.78 136.63 365.27 138.30 362.20 C139.97 359.13 142.42 351.42 143.90 350.50 C145.38 349.58 146.15 351.78 147.20 356.70 C148.25 361.62 149.33 372.42 150.20 380.00 C151.07 387.58 151.47 394.80 152.40 402.20 C153.33 409.60 154.68 416.98 155.80 424.40 C156.92 431.82 158.03 439.10 159.10 446.70 C160.17 454.30 161.38 464.07 162.20 470.00 C163.02 475.93 163.28 478.18 164.00 482.30 C164.72 486.42 165.57 490.58 166.50 494.70 C167.43 498.82 168.47 503.30 169.60 507.00 C170.73 510.70 172.17 514.02 173.30 516.90 C174.43 519.78 175.37 521.83 176.40 524.30 C177.43 526.77 178.37 529.67 179.50 531.70 C180.63 533.73 181.88 535.12 183.20 536.50 C184.52 537.88 185.95 540.22 187.40 540.00 C188.85 539.78 190.65 537.23 191.90 535.20 C193.15 533.17 194.03 530.52 194.90 527.80 C195.77 525.08 196.48 522.37 197.10 518.90 C197.72 515.43 198.12 510.95 198.60 507.00 C199.08 503.05 199.52 499.15 200.00 495.20 C200.48 491.25 201.00 487.00 201.50 483.30 C202.00 479.60 202.45 476.55 203.00 473.00 C203.55 469.45 204.17 466.00 204.80 462.00 C205.43 458.00 206.10 453.83 206.80 449.00 C207.50 444.17 208.23 436.17 209.00 433.00 C209.77 429.83 210.63 429.83 211.40 430.00 C212.17 430.17 213.12 432.33 213.60 434.00 C214.08 435.67 213.87 436.95 214.30 440.00 C214.73 443.05 215.58 448.18 216.20 452.30 C216.82 456.42 217.48 460.58 218.00 464.70 C218.52 468.82 218.87 472.88 219.30 477.00 C219.73 481.12 220.20 484.97 220.60 489.40 C221.00 493.83 221.23 498.97 221.70 503.60 C222.17 508.23 222.83 512.67 223.40 517.20 C223.97 521.73 224.43 526.28 225.10 530.80 C225.77 535.32 226.53 540.00 227.40 544.30 C228.27 548.60 229.13 553.20 230.30 556.60 C231.47 560.00 232.92 561.98 234.40 564.70 C235.88 567.42 237.85 571.18 239.20 572.90 C240.55 574.62 240.50 573.32 242.50 575.00 C244.50 576.68 248.48 582.37 251.20 583.00 C253.92 583.63 257.00 579.88 258.80 578.80 C260.60 577.72 260.85 577.92 262.00 576.50 C263.15 575.08 264.47 572.37 265.70 570.30 C266.93 568.23 268.17 566.37 269.40 564.10 C270.63 561.83 271.97 559.05 273.10 556.70 C274.23 554.35 275.17 551.78 276.20 550.00 C277.23 548.22 278.37 546.88 279.30 546.00 C280.23 545.12 280.92 544.67 281.80 544.70 C282.68 544.73 283.68 545.02 284.60 546.20 C285.52 547.38 286.33 549.83 287.30 551.80 C288.27 553.77 289.37 556.25 290.40 558.00 C291.43 559.75 292.27 560.97 293.50 562.30 C294.73 563.63 296.47 564.67 297.80 566.00 C299.13 567.33 300.30 569.22 301.50 570.30 C302.70 571.38 303.17 570.47 305.00 572.50 C306.83 574.53 309.80 579.92 312.50 582.50 C315.20 585.08 318.48 587.58 321.20 588.00 C323.92 588.42 326.38 588.00 328.80 585.00 C331.22 582.00 333.90 575.08 335.70 570.00 C337.50 564.92 338.30 560.12 339.60 554.50 C340.90 548.88 342.20 542.78 343.50 536.30 C344.80 529.82 346.18 522.95 347.40 515.60 C348.62 508.25 349.63 497.47 350.80 492.20 C351.97 486.93 353.10 483.57 354.40 484.00 C355.70 484.43 357.38 489.53 358.60 494.80 C359.82 500.07 360.53 508.25 361.70 515.60 C362.87 522.95 364.32 532.00 365.60 538.90 C366.88 545.80 367.68 552.68 369.40 557.00 C371.12 561.32 373.93 562.00 375.90 564.80 C377.87 567.60 379.27 571.07 381.20 573.80 C383.13 576.53 385.20 578.92 387.50 581.20 C389.80 583.48 392.28 585.40 395.00 587.50 C397.72 589.60 400.88 592.55 403.80 593.80 C406.72 595.05 409.38 594.72 412.50 595.00 C415.62 595.28 419.78 595.30 422.50 595.50 C425.22 595.70 427.13 595.65 428.80 596.20 C430.47 596.75 431.05 598.80 432.50 598.80 C433.95 598.80 435.42 596.75 437.50 596.20 C439.58 595.65 442.50 595.53 445.00 595.50 C447.50 595.47 449.58 596.00 452.50 596.00 C455.42 596.00 459.78 595.87 462.50 595.50 C465.22 595.13 466.92 594.72 468.80 593.80 C470.68 592.88 472.35 591.88 473.80 590.00 C475.25 588.12 476.28 585.83 477.50 582.50 C478.72 579.17 480.20 572.92 481.10 570.00 C482.00 567.08 482.27 569.67 482.90 565.00 C483.53 560.33 484.22 549.02 484.90 542.00 C485.58 534.98 486.32 528.35 487.00 522.90 C487.68 517.45 488.22 512.87 489.00 509.30 C489.78 505.73 490.65 503.22 491.70 501.50 C492.75 499.78 493.92 498.70 495.30 499.00 C496.68 499.30 498.67 500.73 500.00 503.30 C501.33 505.87 502.00 511.07 503.30 514.40 C504.60 517.73 506.13 520.33 507.80 523.30 C509.47 526.27 511.27 529.78 513.30 532.20 C515.33 534.62 517.40 535.95 520.00 537.80 C522.60 539.65 526.82 541.68 528.90 543.30 C530.98 544.92 530.65 545.55 532.50 547.50 C534.35 549.45 537.50 552.92 540.00 555.00 C542.50 557.08 545.00 558.55 547.50 560.00 C550.00 561.45 552.85 562.52 555.00 563.70 C557.15 564.88 558.58 565.97 560.40 567.10 C562.22 568.23 563.85 569.77 565.90 570.50 C567.95 571.23 570.43 571.27 572.70 571.50 C574.97 571.73 577.23 571.62 579.50 571.90 C581.77 572.18 584.05 572.30 586.30 573.20 C588.55 574.10 590.75 576.17 593.00 577.30 C595.25 578.43 597.53 579.32 599.80 580.00 C602.07 580.68 604.33 581.17 606.60 581.40 C608.87 581.63 611.13 581.07 613.40 581.40 C615.67 581.73 618.27 582.65 620.20 583.40 C622.13 584.15 622.95 585.30 625.00 585.90 C627.05 586.50 630.00 586.65 632.50 587.00 C635.00 587.35 637.50 587.70 640.00 588.00 C642.50 588.30 645.00 588.55 647.50 588.80 C650.00 589.05 652.50 589.22 655.00 589.50 C657.50 589.78 660.00 590.17 662.50 590.50 C665.00 590.83 667.50 591.17 670.00 591.50 C672.50 591.83 675.00 592.25 677.50 592.50 C680.00 592.75 682.50 592.78 685.00 593.00 C687.50 593.22 690.00 593.55 692.50 593.80 C695.00 594.05 697.50 594.38 700.00 594.50 C702.50 594.62 705.00 594.50 707.50 594.50 C710.00 594.50 712.50 594.55 715.00 594.50 C717.50 594.45 720.00 594.20 722.50 594.20 C725.00 594.20 727.50 594.37 730.00 594.50 C732.50 594.63 735.00 595.25 737.50 595.00 C740.00 594.75 742.50 593.75 745.00 593.00 C747.50 592.25 750.00 591.20 752.50 590.50 C755.00 589.80 757.92 589.20 760.00 588.80 C762.08 588.40 763.13 588.32 765.00 588.10 C766.87 587.88 769.35 587.90 771.20 587.50 C773.05 587.10 774.67 586.62 776.10 585.70 C777.53 584.78 778.77 583.65 779.80 582.00 C780.83 580.35 781.47 578.07 782.30 575.80 C783.13 573.53 783.98 571.70 784.80 568.40 C785.62 565.10 786.48 559.92 787.20 556.00 C787.92 552.08 788.52 549.13 789.10 544.90 C789.68 540.67 790.00 535.00 790.70 530.60 C791.40 526.20 792.28 521.35 793.30 518.50 C794.32 515.65 795.65 513.50 796.80 513.50 C797.95 513.50 799.30 517.00 800.20 518.50 C801.10 520.00 801.35 519.38 802.20 522.50 C803.05 525.62 804.25 532.32 805.30 537.20 C806.35 542.08 807.45 547.62 808.50 551.80 C809.55 555.98 810.38 558.80 811.60 562.30 C812.82 565.80 814.22 570.00 815.80 572.80 C817.38 575.60 819.17 576.82 821.10 579.10 C823.03 581.38 825.30 584.57 827.40 586.50 C829.50 588.43 831.60 589.65 833.70 590.70 C835.80 591.75 837.62 592.22 840.00 592.80 C842.38 593.38 846.38 593.78 848.00 594.20 C849.62 594.62 848.38 594.80 849.70 595.30 C851.02 595.80 853.82 596.80 855.90 597.20 C857.98 597.60 860.12 597.50 862.20 597.70 C864.28 597.90 866.58 598.48 868.40 598.40 C870.22 598.32 871.27 597.45 873.10 597.20 C874.93 596.95 877.32 596.75 879.40 596.90 C881.48 597.05 883.52 597.78 885.60 598.10 C887.68 598.42 889.82 598.53 891.90 598.80 C893.98 599.07 896.02 599.30 898.10 599.70 C900.18 600.10 902.32 600.83 904.40 601.20 C906.48 601.57 908.52 601.90 910.60 601.90 C912.68 601.90 914.82 601.47 916.90 601.20 C918.98 600.93 921.02 600.55 923.10 600.30 C925.18 600.05 927.32 599.88 929.40 599.70 C931.48 599.52 933.83 599.28 935.60 599.20 C937.37 599.12 938.43 599.20 940.00 599.20 C941.57 599.20 942.97 599.23 945.00 599.20 C947.03 599.17 950.43 599.20 952.20 599.00 C953.97 598.80 954.30 598.18 955.60 598.00 C956.90 597.82 958.70 597.77 960.00 597.90 C961.30 598.03 962.83 598.65 963.40 598.80" fill="none" stroke="#808000" stroke-width="3.7" stroke-linejoin="round" stroke-linecap="round"/>
<path d="M132.90 422.20 C133.75 421.10 136.22 418.30 138.00 415.60 C139.78 412.90 142.12 407.10 143.60 406.00 C145.08 404.90 145.98 405.93 146.90 409.00 C147.82 412.07 148.37 418.87 149.10 424.40 C149.83 429.93 150.53 436.52 151.30 442.20 C152.07 447.88 152.92 453.87 153.70 458.50 C154.48 463.13 155.30 466.03 156.00 470.00 C156.70 473.97 157.28 478.18 157.90 482.30 C158.52 486.42 159.08 490.58 159.70 494.70 C160.32 498.82 160.88 502.88 161.60 507.00 C162.32 511.12 163.18 515.28 164.00 519.40 C164.82 523.52 165.67 528.00 166.50 531.70 C167.33 535.40 168.07 538.52 169.00 541.60 C169.93 544.68 171.07 547.52 172.10 550.20 C173.13 552.88 174.18 555.43 175.20 557.70 C176.22 559.97 177.28 561.95 178.20 563.80 C179.12 565.65 179.90 567.15 180.70 568.80 C181.50 570.45 181.88 572.23 183.00 573.70 C184.12 575.17 185.92 577.60 187.40 577.60 C188.88 577.60 190.65 575.58 191.90 573.70 C193.15 571.82 194.03 569.27 194.90 566.30 C195.77 563.33 196.37 559.60 197.10 555.90 C197.83 552.20 198.68 548.05 199.30 544.10 C199.92 540.15 200.30 536.40 200.80 532.20 C201.30 528.00 201.82 523.10 202.30 518.90 C202.78 514.70 203.22 510.95 203.70 507.00 C204.18 503.05 204.70 498.78 205.20 495.20 C205.70 491.62 206.08 488.28 206.70 485.50 C207.32 482.72 208.15 479.92 208.90 478.50 C209.65 477.08 210.40 476.54 211.20 477.00 C212.00 477.46 212.95 478.15 213.70 481.25 C214.45 484.35 215.17 491.16 215.70 495.60 C216.23 500.04 216.43 503.80 216.90 507.90 C217.37 512.00 218.02 516.08 218.50 520.20 C218.98 524.32 219.33 528.58 219.80 532.60 C220.27 536.62 220.68 540.08 221.30 544.30 C221.92 548.52 222.78 553.37 223.50 557.90 C224.22 562.43 224.92 566.97 225.60 571.50 C226.28 576.03 226.82 581.47 227.60 585.10 C228.38 588.73 229.17 590.82 230.30 593.30 C231.43 595.78 232.58 597.22 234.40 600.00 C236.22 602.78 239.23 607.30 241.20 610.00 C243.17 612.70 244.40 614.87 246.20 616.20 C248.00 617.53 249.90 618.40 252.00 618.00 C254.10 617.60 256.43 616.38 258.80 613.80 C261.17 611.22 264.02 606.05 266.20 602.50 C268.38 598.95 270.33 595.32 271.90 592.50 C273.47 589.68 274.47 587.27 275.60 585.60 C276.73 583.93 277.67 583.13 278.70 582.50 C279.73 581.87 280.78 581.67 281.80 581.80 C282.82 581.93 283.78 582.33 284.80 583.30 C285.82 584.27 286.77 585.85 287.90 587.60 C289.03 589.35 290.22 591.53 291.60 593.80 C292.98 596.07 294.38 599.13 296.20 601.20 C298.02 603.27 300.40 604.10 302.50 606.20 C304.60 608.30 306.72 611.50 308.80 613.80 C310.88 616.10 312.80 618.67 315.00 620.00 C317.20 621.33 319.70 622.00 322.00 621.80 C324.30 621.60 326.63 620.77 328.80 618.80 C330.97 616.83 333.13 612.72 335.00 610.00 C336.87 607.28 338.37 609.17 340.00 602.50 C341.63 595.83 343.35 580.17 344.80 570.00 C346.25 559.83 347.10 548.67 348.70 541.50 C350.30 534.33 352.67 527.00 354.40 527.00 C356.13 527.00 357.67 534.33 359.10 541.50 C360.53 548.67 361.82 561.50 363.00 570.00 C364.18 578.50 365.03 587.50 366.20 592.50 C367.37 597.50 368.33 598.12 370.00 600.00 C371.67 601.88 374.33 602.13 376.20 603.80 C378.07 605.47 379.32 607.72 381.20 610.00 C383.08 612.28 385.20 615.20 387.50 617.50 C389.80 619.80 392.28 622.13 395.00 623.80 C397.72 625.47 400.88 626.80 403.80 627.50 C406.72 628.20 409.38 627.88 412.50 628.00 C415.62 628.12 419.78 628.00 422.50 628.20 C425.22 628.40 427.13 628.70 428.80 629.20 C430.47 629.70 430.83 631.15 432.50 631.20 C434.17 631.25 436.30 629.70 438.80 629.50 C441.30 629.30 444.80 629.92 447.50 630.00 C450.20 630.08 452.28 630.20 455.00 630.00 C457.72 629.80 461.30 629.50 463.80 628.80 C466.30 628.10 468.13 627.27 470.00 625.80 C471.87 624.33 473.53 622.63 475.00 620.00 C476.47 617.37 477.55 615.42 478.80 610.00 C480.05 604.58 481.37 594.17 482.50 587.50 C483.63 580.83 484.75 573.75 485.60 570.00 C486.45 566.25 486.92 568.32 487.60 565.00 C488.28 561.68 488.90 553.88 489.70 550.10 C490.50 546.32 491.38 543.93 492.40 542.30 C493.42 540.67 494.53 539.75 495.80 540.30 C497.07 540.85 498.57 543.25 500.00 545.60 C501.43 547.95 502.92 551.45 504.40 554.40 C505.88 557.35 507.60 560.70 508.90 563.30 C510.20 565.90 510.77 568.05 512.20 570.00 C513.63 571.95 515.37 573.33 517.50 575.00 C519.63 576.67 522.50 578.13 525.00 580.00 C527.50 581.87 530.00 584.12 532.50 586.20 C535.00 588.28 537.50 590.62 540.00 592.50 C542.50 594.38 545.00 596.33 547.50 597.50 C550.00 598.67 552.85 598.57 555.00 599.50 C557.15 600.43 558.58 601.93 560.40 603.10 C562.22 604.27 563.85 605.93 565.90 606.50 C567.95 607.07 570.43 606.32 572.70 606.50 C574.97 606.68 577.23 607.25 579.50 607.60 C581.77 607.95 584.05 607.87 586.30 608.60 C588.55 609.33 590.75 610.87 593.00 612.00 C595.25 613.13 597.53 614.62 599.80 615.40 C602.07 616.18 604.33 616.48 606.60 616.70 C608.87 616.92 611.13 616.40 613.40 616.70 C615.67 617.00 618.27 617.93 620.20 618.50 C622.13 619.07 622.95 619.65 625.00 620.10 C627.05 620.55 630.00 620.80 632.50 621.20 C635.00 621.60 637.50 622.20 640.00 622.50 C642.50 622.80 645.00 622.78 647.50 623.00 C650.00 623.22 652.50 623.55 655.00 623.80 C657.50 624.05 660.00 624.30 662.50 624.50 C665.00 624.70 667.50 624.72 670.00 625.00 C672.50 625.28 675.00 625.87 677.50 626.20 C680.00 626.53 682.50 626.78 685.00 627.00 C687.50 627.22 690.00 627.42 692.50 627.50 C695.00 627.58 697.50 627.42 700.00 627.50 C702.50 627.58 705.00 628.00 707.50 628.00 C710.00 628.00 712.50 627.58 715.00 627.50 C717.50 627.42 720.00 627.38 722.50 627.50 C725.00 627.62 727.50 627.98 730.00 628.20 C732.50 628.42 735.00 629.13 737.50 628.80 C740.00 628.47 742.50 627.03 745.00 626.20 C747.50 625.37 750.00 624.42 752.50 623.80 C755.00 623.18 757.92 622.88 760.00 622.50 C762.08 622.12 763.35 621.67 765.00 621.50 C766.65 621.33 768.25 621.72 769.90 621.50 C771.55 621.28 773.35 620.92 774.90 620.20 C776.45 619.48 777.97 618.63 779.20 617.20 C780.43 615.77 781.37 614.18 782.30 611.60 C783.23 609.02 783.98 605.40 784.80 601.70 C785.62 598.00 786.38 593.52 787.20 589.40 C788.02 585.28 788.87 581.12 789.70 577.00 C790.53 572.88 791.38 568.12 792.20 564.70 C793.02 561.28 793.88 558.23 794.60 556.50 C795.32 554.77 795.85 554.67 796.50 554.30 C797.15 553.93 797.78 553.85 798.50 554.30 C799.22 554.75 800.18 555.67 800.80 557.00 C801.42 558.33 801.45 559.32 802.20 562.30 C802.95 565.28 804.08 570.00 805.30 574.90 C806.52 579.80 808.10 587.15 809.50 591.70 C810.90 596.25 812.12 599.05 813.70 602.20 C815.28 605.35 817.07 608.15 819.00 610.60 C820.93 613.05 823.20 614.97 825.30 616.90 C827.40 618.83 829.50 620.80 831.60 622.20 C833.70 623.60 835.17 624.50 837.90 625.30 C840.63 626.10 846.03 626.48 848.00 627.00 C849.97 627.52 848.38 627.82 849.70 628.40 C851.02 628.98 853.82 630.03 855.90 630.50 C857.98 630.97 860.12 631.08 862.20 631.20 C864.28 631.32 866.32 631.32 868.40 631.20 C870.48 631.08 872.87 630.75 874.70 630.50 C876.53 630.25 877.58 629.58 879.40 629.70 C881.22 629.82 883.52 630.82 885.60 631.20 C887.68 631.58 889.82 631.73 891.90 632.00 C893.98 632.27 896.02 632.45 898.10 632.80 C900.18 633.15 902.32 633.78 904.40 634.10 C906.48 634.42 908.52 634.70 910.60 634.70 C912.68 634.70 914.82 634.37 916.90 634.10 C918.98 633.83 921.02 633.37 923.10 633.10 C925.18 632.83 927.32 632.65 929.40 632.50 C931.48 632.35 933.83 632.25 935.60 632.20 C937.37 632.15 938.43 632.20 940.00 632.20 C941.57 632.20 942.97 632.20 945.00 632.20 C947.03 632.20 950.43 632.47 952.20 632.20 C953.97 631.93 954.30 630.88 955.60 630.60 C956.90 630.32 958.70 630.30 960.00 630.50 C961.30 630.70 962.83 631.58 963.40 631.80" fill="none" stroke="#FF00FF" stroke-width="3.7" stroke-linejoin="round" stroke-linecap="round"/>
<line x1="154.9" y1="46.5" x2="154.9" y2="540.5" stroke="#FF0000" stroke-width="2.5" stroke-dasharray="9.7 7.15"/>
<line x1="795.8" y1="269.3" x2="795.8" y2="630.6" stroke="#FF0000" stroke-width="2.5" stroke-dasharray="9.9 6.95"/>
<rect x="93.75" y="6.85" width="904.45" height="669.15" fill="none" stroke="#000" stroke-width="3.4"/>
<line x1="93.75" y1="676" x2="93.75" y2="689.50" stroke="#000" stroke-width="3.4" stroke-linecap="round"/>
<text transform="translate(94.55,730) scale(0.94,1)" font-size="43.7" text-anchor="middle">0</text>
<line x1="150.28" y1="676" x2="150.28" y2="682.50" stroke="#000" stroke-width="3.4" stroke-linecap="round"/>
<line x1="206.81" y1="676" x2="206.81" y2="689.50" stroke="#000" stroke-width="3.4" stroke-linecap="round"/>
<text transform="translate(207.61,730) scale(0.94,1)" font-size="43.7" text-anchor="middle">10</text>
<line x1="263.33" y1="676" x2="263.33" y2="682.50" stroke="#000" stroke-width="3.4" stroke-linecap="round"/>
<line x1="319.86" y1="676" x2="319.86" y2="689.50" stroke="#000" stroke-width="3.4" stroke-linecap="round"/>
<text transform="translate(320.66,730) scale(0.94,1)" font-size="43.7" text-anchor="middle">20</text>
<line x1="376.39" y1="676" x2="376.39" y2="682.50" stroke="#000" stroke-width="3.4" stroke-linecap="round"/>
<line x1="432.92" y1="676" x2="432.92" y2="689.50" stroke="#000" stroke-width="3.4" stroke-linecap="round"/>
<text transform="translate(433.72,730) scale(0.94,1)" font-size="43.7" text-anchor="middle">30</text>
<line x1="489.45" y1="676" x2="489.45" y2="682.50" stroke="#000" stroke-width="3.4" stroke-linecap="round"/>
<line x1="545.97" y1="676" x2="545.97" y2="689.50" stroke="#000" stroke-width="3.4" stroke-linecap="round"/>
<text transform="translate(546.77,730) scale(0.94,1)" font-size="43.7" text-anchor="middle">40</text>
<line x1="602.50" y1="676" x2="602.50" y2="682.50" stroke="#000" stroke-width="3.4" stroke-linecap="round"/>
<line x1="659.03" y1="676" x2="659.03" y2="689.50" stroke="#000" stroke-width="3.4" stroke-linecap="round"/>
<text transform="translate(659.83,730) scale(0.94,1)" font-size="43.7" text-anchor="middle">50</text>
<line x1="715.56" y1="676" x2="715.56" y2="682.50" stroke="#000" stroke-width="3.4" stroke-linecap="round"/>
<line x1="772.09" y1="676" x2="772.09" y2="689.50" stroke="#000" stroke-width="3.4" stroke-linecap="round"/>
<text transform="translate(772.89,730) scale(0.94,1)" font-size="43.7" text-anchor="middle">60</text>
<line x1="828.61" y1="676" x2="828.61" y2="682.50" stroke="#000" stroke-width="3.4" stroke-linecap="round"/>
<line x1="885.14" y1="676" x2="885.14" y2="689.50" stroke="#000" stroke-width="3.4" stroke-linecap="round"/>
<text transform="translate(885.94,730) scale(0.94,1)" font-size="43.7" text-anchor="middle">70</text>
<line x1="941.67" y1="676" x2="941.67" y2="682.50" stroke="#000" stroke-width="3.4" stroke-linecap="round"/>
<line x1="998.20" y1="676" x2="998.20" y2="689.50" stroke="#000" stroke-width="3.4" stroke-linecap="round"/>
<text transform="translate(999.00,730) scale(0.94,1)" font-size="43.7" text-anchor="middle">80</text>
<text transform="translate(530,789) scale(0.967,1)" font-size="43.2" text-anchor="middle">2 Theta (deg.)</text>
<text transform="translate(41.4,349.7) rotate(-90)" font-size="42.5" text-anchor="middle">Intensity (a. u.)</text>
<text transform="translate(162.1,48.6) scale(0.929,1)" font-size="41" text-anchor="middle">003</text>
<text transform="translate(797.3,259.4) scale(0.949,1)" font-size="41" text-anchor="middle">110</text>
<text x="673.5" y="365.2" font-size="40" text-anchor="middle">(a)</text>
<text x="677.5" y="424.0" font-size="40" text-anchor="middle">(b)</text>
<text x="676.2" y="471.2" font-size="40" text-anchor="middle">(c)</text>
<text x="677.5" y="520.1" font-size="40" text-anchor="middle">(d)</text>
<text x="679.6" y="565.8" font-size="40" text-anchor="middle">(e)</text>
<text x="677.9" y="613.0" font-size="40" text-anchor="middle">(f)</text>
<text x="682.8" y="650.7" font-size="40" text-anchor="middle">(g)</text>
</svg></body></html>
